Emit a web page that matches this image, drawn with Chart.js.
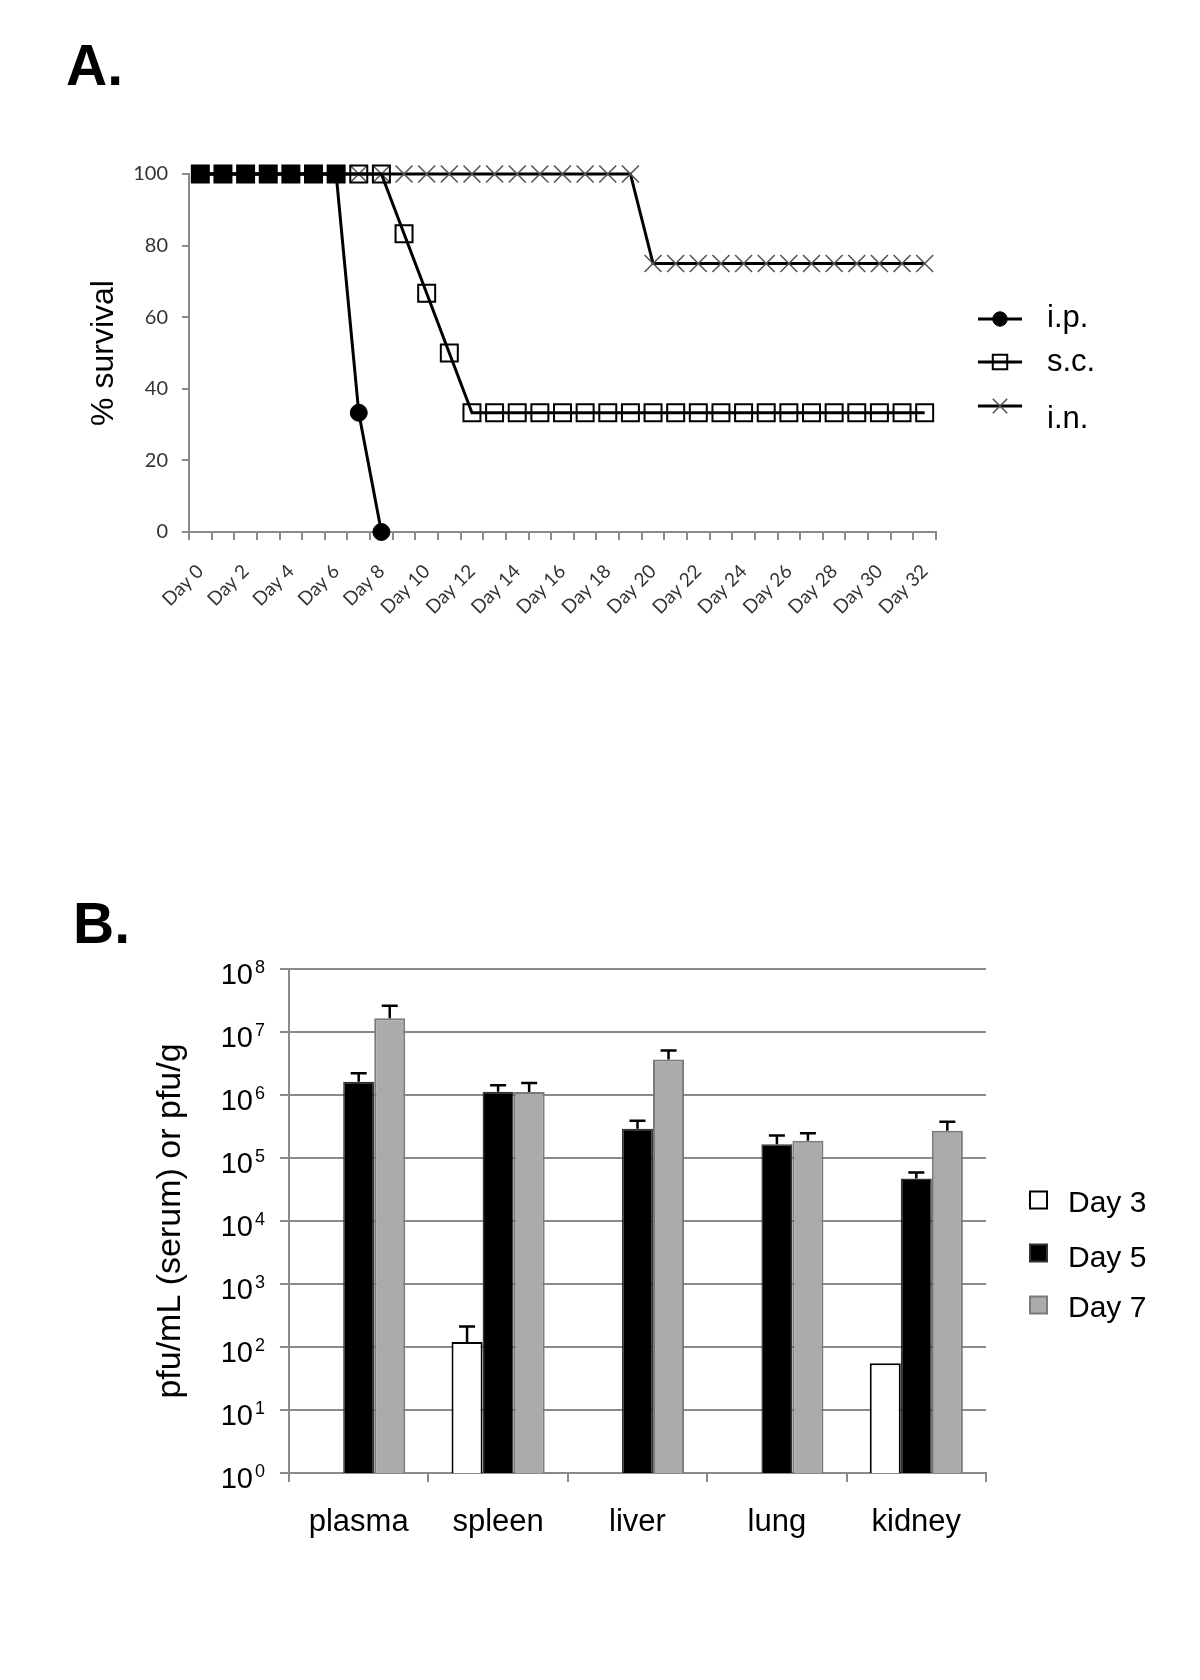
<!DOCTYPE html>
<html>
<head>
<meta charset="utf-8">
<script src="https://cdn.jsdelivr.net/npm/chart.js@4.4.0/dist/chart.umd.min.js"></script>
<style>
  html, body { margin: 0; padding: 0; background: #fff; }
  #page { position: relative; width: 1200px; height: 1680px; background: #fff; }
  canvas { position: absolute; left: 0; }
  .panel { position: absolute; font: bold 57px "Liberation Sans", Arial, sans-serif; line-height: 57px; color: #000; }
</style>
</head>
<body>
<div id="page">
  <canvas id="survival" width="1200" height="700" style="top:0"></canvas>
  <canvas id="titers" width="1200" height="880" style="top:800px"></canvas>
  <div class="panel" style="left:66px; top:37px">A.</div>
  <div class="panel" style="left:73px; top:895px">B.</div>
</div>
<script>
// panel A - survival
const days = ['Day 0', 'Day 1', 'Day 2', 'Day 3', 'Day 4', 'Day 5', 'Day 6', 'Day 7', 'Day 8',
  'Day 9', 'Day 10', 'Day 11', 'Day 12', 'Day 13', 'Day 14', 'Day 15', 'Day 16', 'Day 17',
  'Day 18', 'Day 19', 'Day 20', 'Day 21', 'Day 22', 'Day 23', 'Day 24', 'Day 25', 'Day 26',
  'Day 27', 'Day 28', 'Day 29', 'Day 30', 'Day 31', 'Day 32'];
const ipSurvival = [100, 100, 100, 100, 100, 100, 100, 33.3, 0];
const scSurvival = [100, 100, 100, 100, 100, 100, 100, 100, 100, 83.3, 66.7, 50,
  33.3, 33.3, 33.3, 33.3, 33.3, 33.3, 33.3, 33.3, 33.3, 33.3, 33.3, 33.3, 33.3, 33.3, 33.3,
  33.3, 33.3, 33.3, 33.3, 33.3, 33.3];
const inSurvival = [100, 100, 100, 100, 100, 100, 100, 100, 100, 100, 100, 100, 100, 100,
  100, 100, 100, 100, 100, 100, 75, 75, 75, 75, 75, 75, 75, 75, 75, 75, 75, 75, 75];
const survivalTicks = [0, 20, 40, 60, 80, 100];

// panel B - virus titers
const organs = ['plasma', 'spleen', 'liver', 'lung', 'kidney'];
const day3Titer = [null, 120, null, null, 55];
const day3Err = [null, 92, null, null, null];
const day5Titer = [1.62e6, 1.13e6, 2.9e5, 1.65e5, 4.74e4];
const day5Err = [5.9e5, 3.0e5, 1.0e5, 6.3e4, 1.16e4];
const day7Titer = [1.65e7, 1.12e6, 3.67e6, 1.88e5, 2.7e5];
const day7Err = [9.6e6, 4.3e5, 1.43e6, 5.9e4, 1.06e5];
const titerTicks = [1, 10, 100, 1e3, 1e4, 1e5, 1e6, 1e7, 1e8];
const titerExponents = ['0', '1', '2', '3', '4', '5', '6', '7', '8'];

const SANS = '"Liberation Sans", Arial, sans-serif';
Chart.defaults.font.family = SANS;
Chart.defaults.color = '#000';

function drawMarker(ctx, style, x, y, r, fill, stroke, lw) {
  ctx.save();
  ctx.lineWidth = lw;
  ctx.strokeStyle = stroke;
  ctx.fillStyle = fill;
  ctx.beginPath();
  if (style === 'circle') {
    ctx.arc(x, y, r, 0, Math.PI * 2);
    ctx.fill();
    ctx.stroke();
  } else if (style === 'rect') {
    const s = r * Math.SQRT1_2;
    ctx.rect(x - s, y - s, 2 * s, 2 * s);
    ctx.stroke();
  } else if (style === 'crossRot') {
    const s = r * Math.SQRT1_2;
    ctx.moveTo(x - s, y - s); ctx.lineTo(x + s, y + s);
    ctx.moveTo(x + s, y - s); ctx.lineTo(x - s, y + s);
    ctx.stroke();
  }
  ctx.restore();
}

const survivalLegend = {
  id: 'survivalLegend',
  afterDraw(chart, args, opts) {
    const ctx = chart.ctx;
    chart.data.datasets.forEach((ds, i) => {
      const y = opts.rows[i];
      ctx.save();
      ctx.strokeStyle = ds.borderColor;
      ctx.lineWidth = opts.lineWidth;
      ctx.beginPath();
      ctx.moveTo(opts.x0, y);
      ctx.lineTo(opts.x1, y);
      ctx.stroke();
      ctx.restore();
      drawMarker(ctx, ds.pointStyle, (opts.x0 + opts.x1) / 2, y, ds.pointRadius * 0.85,
        ds.legendFill, ds.pointBorderColor, ds.pointBorderWidth);
      ctx.save();
      ctx.font = opts.font;
      ctx.fillStyle = '#000';
      ctx.textAlign = 'left';
      ctx.textBaseline = 'alphabetic';
      ctx.fillText(ds.label, opts.textX, opts.baselines[i]);
      ctx.restore();
    });
  }
};

new Chart(document.getElementById('survival'), {
  type: 'line',
  data: {
    labels: days,
    datasets: [
      {
        label: 'i.p.', data: ipSurvival,
        borderColor: '#000', borderWidth: 3,
        pointStyle: 'circle', pointRadius: 8.5, pointBorderWidth: 1,
        pointBackgroundColor: '#000', pointBorderColor: '#000', legendFill: '#000',
        tension: 0, clip: false
      },
      {
        label: 's.c.', data: scSurvival,
        borderColor: '#000', borderWidth: 3,
        pointStyle: 'rect', pointRadius: 12, pointBorderWidth: 2,
        // where the filled i.p. marker sits on the same value the square shows solid
        pointBackgroundColor: c => ipSurvival[c.dataIndex] === scSurvival[c.dataIndex] ? '#000' : 'rgba(0,0,0,0)',
        pointBorderColor: '#000', legendFill: 'rgba(0,0,0,0)',
        tension: 0, clip: false
      },
      {
        label: 'i.n.', data: inSurvival,
        borderColor: '#000', borderWidth: 3,
        pointStyle: 'crossRot', pointRadius: 12, pointBorderWidth: 1.6,
        pointBackgroundColor: 'rgba(0,0,0,0)', pointBorderColor: '#555', legendFill: 'rgba(0,0,0,0)',
        tension: 0, clip: false
      }
    ]
  },
  options: {
    responsive: false,
    animation: false,
    events: [],
    layout: { padding: { left: 0, right: 264, top: 174, bottom: 58 } },
    plugins: {
      legend: { display: false },
      tooltip: { enabled: false },
      survivalLegend: {
        x0: 978, x1: 1022, rows: [319, 362, 406], textX: 1047,
        baselines: [327, 371, 428], font: '31px ' + SANS, lineWidth: 3
      }
    },
    scales: {
      x: {
        type: 'category',
        offset: true,
        grid: { offset: true, drawOnChartArea: false, tickLength: 8, color: '#8a8a8a', lineWidth: 2 },
        border: { color: '#8a8a8a', width: 2 },
        ticks: {
          autoSkip: false, maxRotation: 45, minRotation: 45, padding: 20,
          color: '#333', font: { family: 'Lato, "Open Sans", sans-serif', size: 19 },
          callback: (v, i) => i % 2 === 0 ? days[i] : ''
        },
        afterFit: s => { s.height = 110; }
      },
      y: {
        min: 0, max: 100,
        afterBuildTicks: s => { s.ticks = survivalTicks.map(v => ({ value: v })); },
        grid: { drawOnChartArea: false, tickLength: 7, color: '#8a8a8a', lineWidth: 2 },
        border: { color: '#8a8a8a', width: 2 },
        ticks: { padding: 14, color: '#333', font: { family: 'Lato, "Open Sans", sans-serif', size: 20 } },
        title: { display: true, text: '% survival', color: '#000', font: { size: 32 }, padding: { top: 85, bottom: 0 } },
        afterFit: s => { s.width = 189; }
      }
    }
  },
  plugins: [survivalLegend]
});

// panel B helpers
const errorBars = {
  id: 'errorBars',
  afterDatasetsDraw(chart) {
    const ctx = chart.ctx;
    const y = chart.scales.y;
    chart.data.datasets.forEach((ds, i) => {
      const meta = chart.getDatasetMeta(i);
      meta.data.forEach((bar, j) => {
        const v = ds.data[j], e = ds.errorPlus[j];
        if (v == null || e == null) return;
        const top = y.getPixelForValue(v + e);
        ctx.save();
        ctx.strokeStyle = '#000';
        ctx.lineWidth = 2.5;
        ctx.beginPath();
        ctx.moveTo(bar.x, bar.y);
        ctx.lineTo(bar.x, top);
        ctx.moveTo(bar.x - 8, top);
        ctx.lineTo(bar.x + 8, top);
        ctx.stroke();
        ctx.restore();
      });
    });
  }
};

const powerLabels = {
  id: 'powerLabels',
  afterDraw(chart) {
    const ctx = chart.ctx;
    const y = chart.scales.y;
    titerTicks.forEach((v, i) => {
      const py = y.getPixelForValue(v);
      ctx.save();
      ctx.fillStyle = '#000';
      ctx.textBaseline = 'alphabetic';
      ctx.font = '29px ' + SANS;
      ctx.textAlign = 'right';
      ctx.fillText('10', 253, py + 15);
      ctx.font = '18px ' + SANS;
      ctx.textAlign = 'left';
      ctx.fillText(titerExponents[i], 255, py + 4);
      ctx.restore();
    });
  }
};

const titerLegend = {
  id: 'titerLegend',
  afterDraw(chart, args, opts) {
    const ctx = chart.ctx;
    chart.data.datasets.forEach((ds, i) => {
      const cy = opts.rows[i];
      ctx.save();
      ctx.fillStyle = ds.backgroundColor;
      ctx.strokeStyle = ds.borderColor;
      ctx.lineWidth = 2;
      ctx.fillRect(opts.x, cy - opts.size / 2, opts.size, opts.size);
      ctx.strokeRect(opts.x, cy - opts.size / 2, opts.size, opts.size);
      ctx.font = opts.font;
      ctx.fillStyle = '#000';
      ctx.textAlign = 'left';
      ctx.textBaseline = 'alphabetic';
      ctx.fillText(ds.label, opts.textX, opts.baselines[i]);
      ctx.restore();
    });
  }
};

new Chart(document.getElementById('titers'), {
  type: 'bar',
  data: {
    labels: organs,
    datasets: [
      { label: 'Day 3', data: day3Titer, errorPlus: day3Err, backgroundColor: '#fff', borderColor: '#000', borderWidth: 2 },
      { label: 'Day 5', data: day5Titer, errorPlus: day5Err, backgroundColor: '#000', borderColor: '#333', borderWidth: 1.5 },
      { label: 'Day 7', data: day7Titer, errorPlus: day7Err, backgroundColor: '#ababab', borderColor: '#7a7a7a', borderWidth: 2 }
    ]
  },
  options: {
    responsive: false,
    animation: false,
    events: [],
    categoryPercentage: 0.668,
    barPercentage: 1,
    layout: { padding: { left: 0, right: 214, top: 169, bottom: 107 } },
    plugins: {
      legend: { display: false },
      tooltip: { enabled: false },
      titerLegend: {
        x: 1030, size: 17, rows: [400, 453, 505], textX: 1068,
        baselines: [412, 467, 517], font: '30px ' + SANS
      }
    },
    scales: {
      x: {
        grid: { offset: true, drawOnChartArea: false, tickLength: 9, color: '#8a8a8a', lineWidth: 2 },
        border: { color: '#8a8a8a', width: 2 },
        ticks: { padding: 22, color: '#000', font: { size: 31 } },
        afterFit: s => { s.height = 100; }
      },
      y: {
        type: 'logarithmic',
        min: 1, max: 1e8,
        afterBuildTicks: s => { s.ticks = titerTicks.map(v => ({ value: v })); },
        grid: { drawOnChartArea: true, drawTicks: true, tickLength: 9, color: '#8a8a8a', lineWidth: 2 },
        border: { color: '#8a8a8a', width: 2 },
        ticks: { display: false },
        title: { display: true, text: 'pfu/mL (serum) or pfu/g', color: '#000', font: { size: 34 }, padding: { top: 150, bottom: 0 } },
        afterFit: s => { s.width = 289; }
      }
    }
  },
  plugins: [errorBars, powerLabels, titerLegend]
});
</script>
</body>
</html>
